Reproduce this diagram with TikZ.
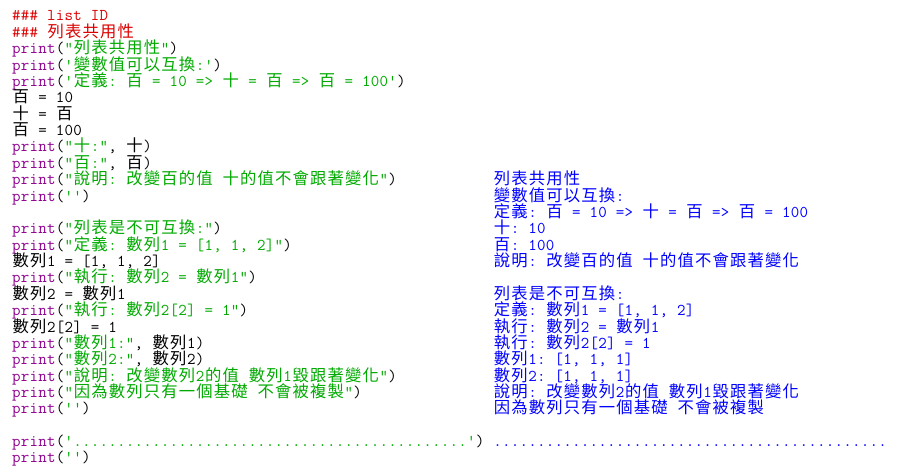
\documentclass[tikz,border=0pt]{standalone}
\usepackage{fontspec}
\newfontfamily\cjkf{Noto Sans CJK TC}[Scale=0.99]
\usepackage{xcolor}
\definecolor{cm}{HTML}{DD0000}
\definecolor{bi}{HTML}{900090}
\definecolor{st}{HTML}{00AA00}
\definecolor{ou}{HTML}{0000FF}
\ExplSyntaxOn
\cs_new_protected:Npn \cd #1
  {
    \str_map_inline:nn {#1}
      {
        \int_compare:nNnTF { `##1 } > { 11904 }
          { \makebox[17.5pt]{\cjkf ##1} }
          { \makebox[8.75pt]{##1} }
      }
  }
\ExplSyntaxOff
\newcommand\hh{\makebox[8.75pt]{\#}}
\newcommand\pr{\textcolor{bi}{\cd{print}}\cd{(}}
\newcommand\sg[1]{\textcolor{st}{\cd{#1}}}
\newcommand\ry[1]{-21-16.37*(#1-1)}
\begin{document}
\begin{tikzpicture}[x=1pt,y=1pt,
  ln/.style={anchor=base west, inner sep=0pt, outer sep=0pt, font=\ttfamily\fontsize{16.5}{17}\selectfont},
  outp/.style={ln, text=ou}]
\fill[white] (0,0) rectangle (901,-473);
\useasboundingbox (0,0) rectangle (901,-473);
% code column
\node[ln] (l1) at (12,{\ry{1}}) {\textcolor{cm}{\hh\hh\hh\cd{ list ID}}};
\node[ln] (l2) at (12,{\ry{2}}) {\textcolor{cm}{\hh\hh\hh\cd{ 列表共用性}}};
\node[ln] (l3) at (12,{\ry{3}}) {\pr\sg{"列表共用性"}\cd{)}};
\node[ln] (l4) at (12,{\ry{4}}) {\pr\sg{'變數值可以互換:'}\cd{)}};
\node[ln] (l5) at (12,{\ry{5}}) {\pr\sg{'定義: 百 = 10 => 十 = 百 => 百 = 100'}\cd{)}};
\node[ln] (l6) at (12,{\ry{6}}) {\cd{百 = 10}};
\node[ln] (l7) at (12,{\ry{7}}) {\cd{十 = 百}};
\node[ln] (l8) at (12,{\ry{8}}) {\cd{百 = 100}};
\node[ln] (l9) at (12,{\ry{9}}) {\pr\sg{"十:"}\cd{, 十)}};
\node[ln] (l10) at (12,{\ry{10}}) {\pr\sg{"百:"}\cd{, 百)}};
\node[ln] (l11) at (12,{\ry{11}}) {\pr\sg{"說明: 改變百的值 十的值不會跟著變化"}\cd{)}};
\node[ln] (l12) at (12,{\ry{12}}) {\pr\sg{''}\cd{)}};
\node[ln] (l14) at (12,{\ry{14}}) {\pr\sg{"列表是不可互換:"}\cd{)}};
\node[ln] (l15) at (12,{\ry{15}}) {\pr\sg{"定義: 數列1 = [1, 1, 2]"}\cd{)}};
\node[ln] (l16) at (12,{\ry{16}}) {\cd{數列1 = [1, 1, 2]}};
\node[ln] (l17) at (12,{\ry{17}}) {\pr\sg{"執行: 數列2 = 數列1"}\cd{)}};
\node[ln] (l18) at (12,{\ry{18}}) {\cd{數列2 = 數列1}};
\node[ln] (l19) at (12,{\ry{19}}) {\pr\sg{"執行: 數列2[2] = 1"}\cd{)}};
\node[ln] (l20) at (12,{\ry{20}}) {\cd{數列2[2] = 1}};
\node[ln] (l21) at (12,{\ry{21}}) {\pr\sg{"數列1:"}\cd{, 數列1)}};
\node[ln] (l22) at (12,{\ry{22}}) {\pr\sg{"數列2:"}\cd{, 數列2)}};
\node[ln] (l23) at (12,{\ry{23}}) {\pr\sg{"說明: 改變數列2的值 數列1毀跟著變化"}\cd{)}};
\node[ln] (l24) at (12,{\ry{24}}) {\pr\sg{"因為數列只有一個基礎 不會被複製"}\cd{)}};
\node[ln] (l25) at (12,{\ry{25}}) {\pr\sg{''}\cd{)}};
\node[ln] (l27) at (12,{\ry{27}}) {\pr\sg{'.............................................'}\cd{)}};
\node[ln] (l28) at (12,{\ry{28}}) {\pr\sg{''}\cd{)}};
% output column
\node[outp] (r11) at (493.25,{\ry{11}}) {\cd{列表共用性}};
\node[outp] (r12) at (493.25,{\ry{12}}) {\cd{變數值可以互換:}};
\node[outp] (r13) at (493.25,{\ry{13}}) {\cd{定義: 百 = 10 => 十 = 百 => 百 = 100}};
\node[outp] (r14) at (493.25,{\ry{14}}) {\cd{十: 10}};
\node[outp] (r15) at (493.25,{\ry{15}}) {\cd{百: 100}};
\node[outp] (r16) at (493.25,{\ry{16}}) {\cd{說明: 改變百的值 十的值不會跟著變化}};
\node[outp] (r18) at (493.25,{\ry{18}}) {\cd{列表是不可互換:}};
\node[outp] (r19) at (493.25,{\ry{19}}) {\cd{定義: 數列1 = [1, 1, 2]}};
\node[outp] (r20) at (493.25,{\ry{20}}) {\cd{執行: 數列2 = 數列1}};
\node[outp] (r21) at (493.25,{\ry{21}}) {\cd{執行: 數列2[2] = 1}};
\node[outp] (r22) at (493.25,{\ry{22}}) {\cd{數列1: [1, 1, 1]}};
\node[outp] (r23) at (493.25,{\ry{23}}) {\cd{數列2: [1, 1, 1]}};
\node[outp] (r24) at (493.25,{\ry{24}}) {\cd{說明: 改變數列2的值 數列1毀跟著變化}};
\node[outp] (r25) at (493.25,{\ry{25}}) {\cd{因為數列只有一個基礎 不會被複製}};
\node[outp] (r27) at (493.25,{\ry{27}}) {\cd{.............................................}};
\end{tikzpicture}
\end{document}
